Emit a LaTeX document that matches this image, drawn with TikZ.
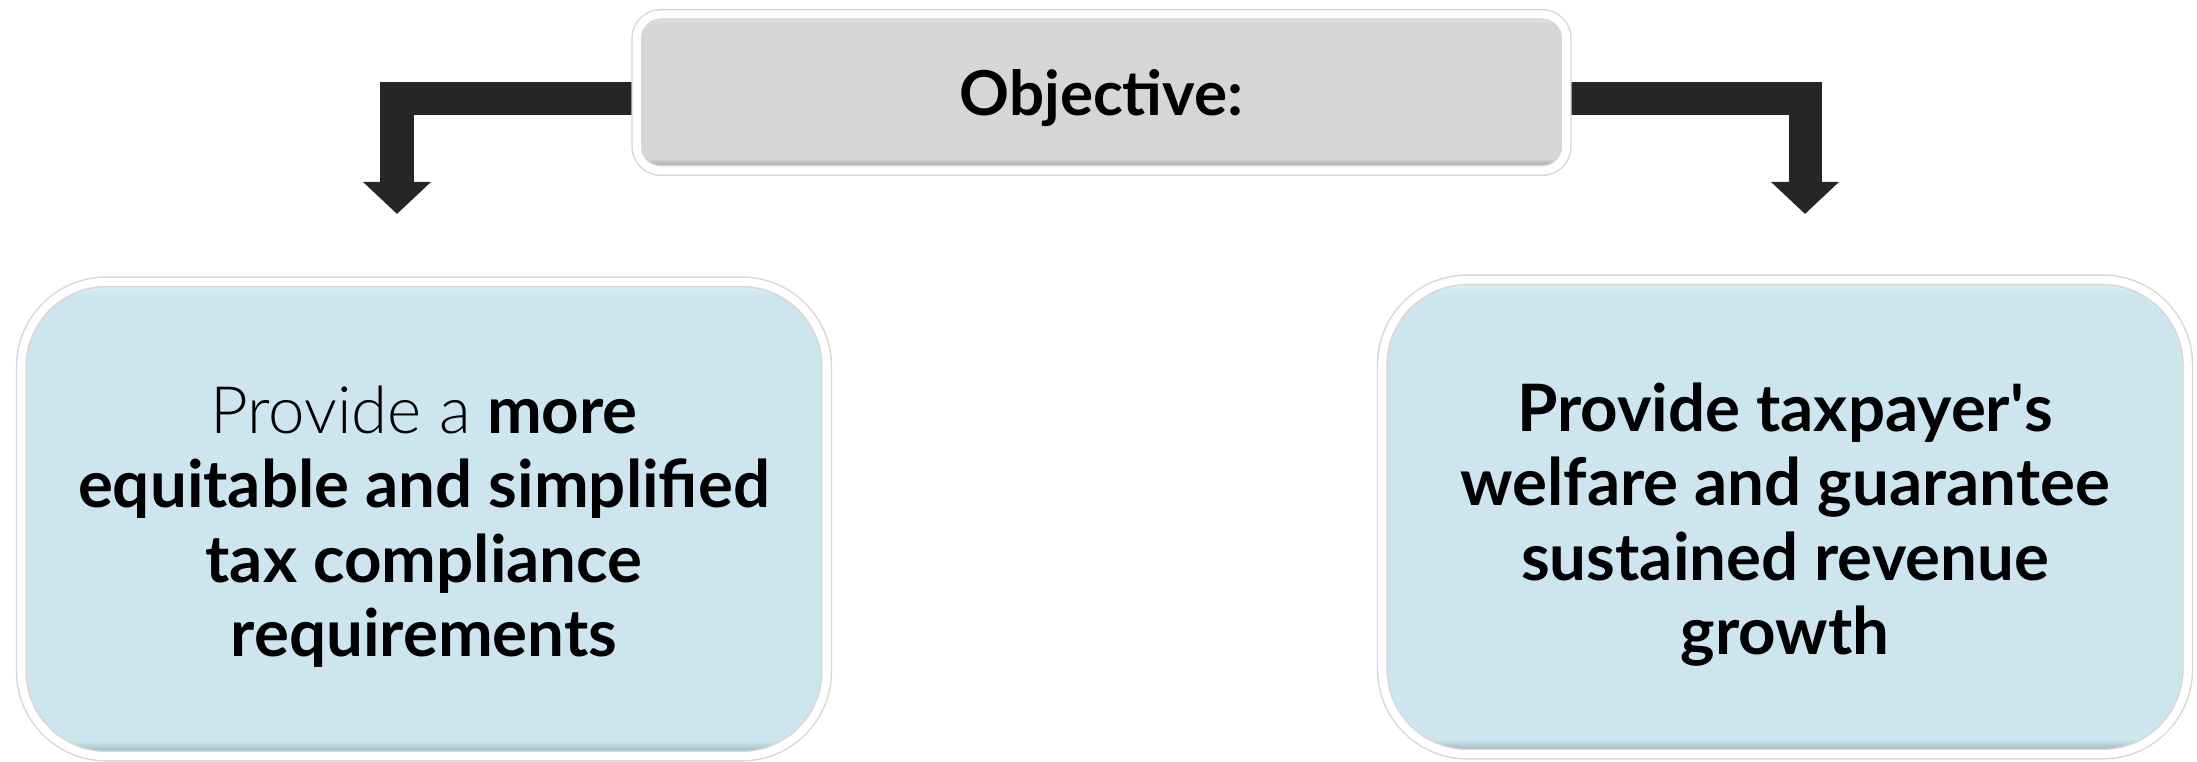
\documentclass[tikz,border=0pt]{standalone}
\usepackage{fontspec}
\setmainfont{Lato}
\newfontfamily\lightfont{Lato Light}
\usetikzlibrary{arrows.meta,shadows}
\pgfdeclarelayer{background}
\pgfsetlayers{background,main}
\definecolor{boxblue}{HTML}{CDE5EF}
\definecolor{rimblue}{HTML}{8FA6B0}
\definecolor{topblue}{HTML}{E2F3FA}
\definecolor{boxgray}{HTML}{D5D6D8}
\definecolor{rimgray}{HTML}{8C8E91}
\definecolor{topgray}{HTML}{E9EAEC}
\definecolor{arrowc}{HTML}{262626}
\pgfdeclareverticalshading{bluebevel}{100bp}{color(0bp)=(rimblue); color(25bp)=(rimblue); color(26.6bp)=(boxblue); color(73.5bp)=(boxblue); color(75bp)=(topblue); color(100bp)=(topblue)}
\pgfdeclareverticalshading{graybevel}{100bp}{color(0bp)=(rimgray); color(25bp)=(rimgray); color(29bp)=(boxgray); color(72bp)=(boxgray); color(75bp)=(topgray); color(100bp)=(topgray)}
\tikzset{
  ring/.style={draw=black!16, double=white, double distance=2.3pt, line width=0.4pt,
    drop shadow={shadow xshift=0pt, shadow yshift=-1pt, opacity=0.12, fill=black}},
  bluebox/.style={ring, shading=bluebevel, rounded corners=0.85cm,
    minimum width=8.05cm, minimum height=4.74cm, align=center,
    font=\fontsize{18.6}{21.1}\selectfont\bfseries},
  objbox/.style={ring, shading=graybevel, rounded corners=0.24cm,
    minimum width=9.29cm, minimum height=1.56cm, align=center,
    font=\fontsize{17.6}{21}\selectfont\bfseries},
  bentarrow/.style={draw=arrowc, line width=0.33cm,
    -{Triangle[width=0.66cm,length=0.32cm]}},
}
\begin{document}
\begin{tikzpicture}[x=0.01cm,y=-0.01cm]
\useasboundingbox (0,0) rectangle (2197,762);
\node[objbox] (obj) at (1101.5,92.5) {\raisebox{-1.6pt}[\height][\depth]{Objective:}};
\node[bluebox] (lbox) at (424,519) {\raisebox{-3.2pt}[\height][\depth]{\begin{tabular}{@{}c@{}}{\mdseries\lightfont Provide a} more\\equitable and simplified\\tax compliance\\requirements\end{tabular}}};
\node[bluebox] (rbox) at (1785,517) {\raisebox{-3.2pt}[\height][\depth]{\begin{tabular}{@{}c@{}}Provide taxpayer\textquotesingle s\\welfare and guarantee\\sustained revenue\\growth\end{tabular}}};
\coordinate (lt) at (397,214);
\coordinate (rt) at (1805,214);
\begin{pgfonlayer}{background}
\draw[bentarrow] ([yshift=-1.85pt]obj.west) -| (lt);
\draw[bentarrow] ([yshift=-1.85pt]obj.east) -| (rt);
\end{pgfonlayer}
\end{tikzpicture}
\end{document}
